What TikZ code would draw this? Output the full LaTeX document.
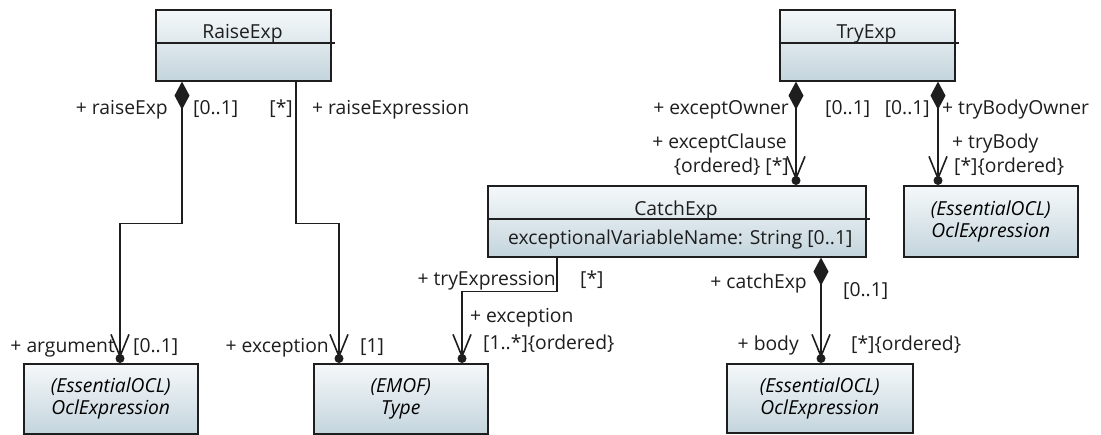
\documentclass[tikz,border=0pt]{standalone}
\usepackage{fontspec}
\setmainfont{Open Sans}
\usetikzlibrary{arrows.meta,calc}
\definecolor{boxtop}{HTML}{F5F8FA}
\definecolor{boxbot}{HTML}{C4D5DD}
\definecolor{ink}{HTML}{1E1E1E}
\begin{document}
\begin{tikzpicture}[x=1pt,y=-1pt,
  font=\fontsize{19.3}{21}\selectfont,
  box/.style={draw=ink, line width=1.6pt, top color=boxtop, bottom color=boxbot, inner sep=0pt, anchor=north west},
  ocl/.style={box, align=center, font=\fontsize{19.3}{22}\selectfont\itshape},
  sep/.style={draw=ink, line width=1.6pt},
  lbl/.style={inner sep=0pt, text=ink},
  conn/.style={draw=ink, line width=1.6pt, shorten >=4.5pt},
  compo/.style={conn, arrows={Diamond[length=28pt,width=15pt]-Straight Barb[length=22pt,width=18pt]}},
  nav/.style={conn, arrows={-Straight Barb[length=22pt,width=18pt]}},
  dot/.style={fill=ink}
]
\useasboundingbox (0,0) rectangle (1101,434);
\fill[white] (0,0) rectangle (1101,434);

% class boxes
\node[box, minimum width=175pt, minimum height=71pt] (raise) at (155,9) {};
\node[box, minimum width=175pt, minimum height=71pt] (tryx) at (779,9) {};
\node[box, minimum width=378pt, minimum height=71pt] (catch) at (487,185) {};
\draw[sep] ([yshift=-34pt]raise.north west) -- ([xshift=3pt,yshift=-34pt]raise.north east);
\draw[sep] ([yshift=-34pt]tryx.north west) -- ([xshift=3pt,yshift=-34pt]tryx.north east);
\draw[sep] ([yshift=-34pt]catch.north west) -- ([xshift=3pt,yshift=-34pt]catch.north east);
\node[lbl, anchor=base] (raiseT) at (242.5,38) {RaiseExp};
\node[lbl, anchor=base] (tryT) at (866.5,38) {TryExp};
\node[lbl, anchor=base] (catchT) at (676,215) {CatchExp};
\node[lbl, anchor=base west] (catchA) at (508,244) {exceptionalVariableName: String [0..1]};

% OCL / Type boxes
\node[ocl, minimum width=174pt, minimum height=71pt] (oclR) at (903,185) {(EssentialOCL)\\OclExpression};
\node[ocl, minimum width=174pt, minimum height=70pt] (oclL) at (23,363) {(EssentialOCL)\\OclExpression};
\node[ocl, minimum width=174pt, minimum height=70pt] (type) at (313,363) {(EMOF)\\Type};
\node[ocl, minimum width=186pt, minimum height=69pt] (oclB) at (726,363) {(EssentialOCL)\\OclExpression};

% connectors
\draw[compo] ([xshift=27pt]raise.south west) -- ++(0,142) -| ([xshift=97pt]oclL.north west);
\draw[nav] ([xshift=141pt]raise.south west) -- ++(0,142) -| ([xshift=26pt]type.north west);
\draw[nav] ([xshift=70pt]catch.south west) -- ++(0,34) -| ([xshift=149pt]type.north west);
\draw[compo] ([xshift=17pt]tryx.south west) -- ([xshift=309pt]catch.north west);
\draw[compo] ([xshift=159pt]tryx.south west) -- ([xshift=35pt]oclR.north west);
\draw[compo] ([xshift=334pt]catch.south west) -- ([xshift=95pt]oclB.north west);

% ownership dots
\fill[dot] ([xshift=97pt,yshift=4.5pt]oclL.north west) circle (4.5pt);
\fill[dot] ([xshift=26pt,yshift=4.5pt]type.north west) circle (4.5pt);
\fill[dot] ([xshift=149pt,yshift=4.5pt]type.north west) circle (4.5pt);
\fill[dot] ([xshift=309pt,yshift=4.5pt]catch.north west) circle (4.5pt);
\fill[dot] ([xshift=35pt,yshift=4.5pt]oclR.north west) circle (4.5pt);
\fill[dot] ([xshift=95pt,yshift=4.5pt]oclB.north west) circle (4.5pt);

% role labels
\node[lbl, anchor=base east] (l1) at (168,114) {+ raiseExp};
\node[lbl, anchor=base west] (l2) at (193,114) {[0..1]};
\node[lbl, anchor=base east] (l3) at (293,114) {[*]};
\node[lbl, anchor=base west] (l4) at (312,114) {+ raiseExpression};
\node[lbl, anchor=base east] (l5) at (115,352) {+ argument};
\node[lbl, anchor=base west] (l6) at (133,352) {[0..1]};
\node[lbl, anchor=base east] (l7) at (329,352) {+ exception};
\node[lbl, anchor=base west] (l8) at (360,352) {[1]};
\node[lbl, anchor=base east] (l9) at (556,285) {+ tryExpression};
\node[lbl, anchor=base west] (l10) at (580,285) {[*]};
\node[lbl, anchor=base west] (l11) at (470,322) {+ exception};
\node[lbl, anchor=base west] (l12) at (483,349) {[1..*]\{ordered\}};
\node[lbl, anchor=base east] (l13) at (789,114) {+ exceptOwner};
\node[lbl, anchor=base west] (l14) at (825,114) {[0..1]};
\node[lbl, anchor=base east] (l15) at (930,114) {[0..1]};
\node[lbl, anchor=base west] (l16) at (942,114) {+ tryBodyOwner};
\node[lbl, anchor=base east] (l17) at (787,148) {+ exceptClause};
\node[lbl, anchor=base east] (l18) at (789,172) {\{ordered\} [*]};
\node[lbl, anchor=base west] (l19) at (952,148) {+ tryBody};
\node[lbl, anchor=base west] (l20) at (954,172) {[*]\{ordered\}};
\node[lbl, anchor=base east] (l21) at (807,288) {+ catchExp};
\node[lbl, anchor=base west] (l22) at (843,296) {[0..1]};
\node[lbl, anchor=base east] (l23) at (799,350) {+ body};
\node[lbl, anchor=base west] (l24) at (851,350) {[*]\{ordered\}};
\end{tikzpicture}
\end{document}
